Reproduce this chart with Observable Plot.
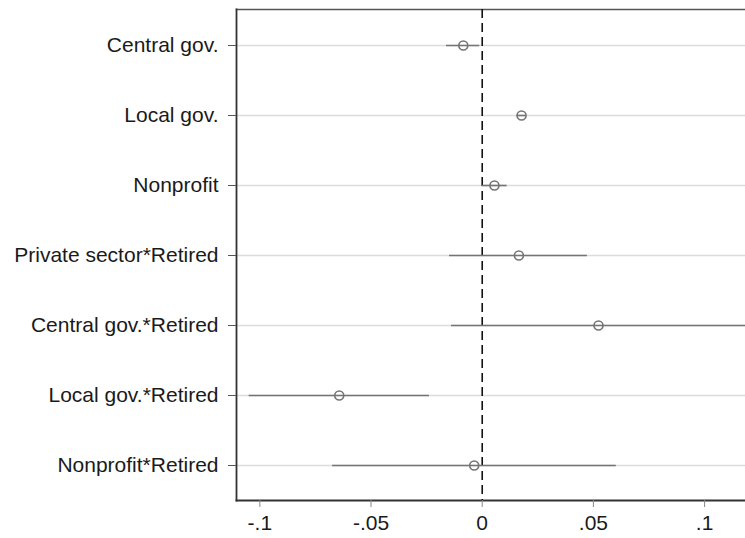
<!DOCTYPE html>
<html>
<head>
<meta charset="utf-8">
<script src="https://cdn.jsdelivr.net/npm/d3@7"></script>
<script src="https://cdn.jsdelivr.net/npm/@observablehq/plot@0.6"></script>
<style>
  html, body { margin: 0; padding: 0; background: #fff; }
  #chart { width: 745px; height: 538px; }
</style>
</head>
<body>
<div id="chart"></div>
<script>
const terms = ["Central gov.", "Local gov.", "Nonprofit", "Private sector*Retired", "Central gov.*Retired", "Local gov.*Retired", "Nonprofit*Retired"];
const estimates = [-0.0085, 0.0177, 0.0055, 0.0165, 0.0523, -0.0643, -0.0036];
const lower = [-0.0161, 0.0156, 0.0000, -0.0147, -0.0138, -0.1048, -0.0673];
const upper = [-0.0011, 0.0198, 0.0112, 0.0473, 0.1190, -0.0237, 0.0603];
const xTicks = [-0.1, -0.05, 0, 0.05, 0.1];
const xTickLabels = ["-.1", "-.05", "0", ".05", ".1"];
const xDomain = [-0.1105, 0.1184];

const data = terms.map((t, i) => ({term: t, est: estimates[i], lo: lower[i], hi: upper[i]}));

const chart = Plot.plot({
  width: 745,
  height: 538,
  marginLeft: 236,
  marginRight: 0,
  marginTop: 9,
  marginBottom: 38,
  style: {fontFamily: "'Liberation Sans', Arial, sans-serif", fontSize: "21px", color: "#1a1a1a", background: "#fff"},
  x: {domain: xDomain, ticks: xTicks, tickFormat: (d) => xTickLabels[xTicks.indexOf(d)]},
  y: {domain: terms, type: "point", padding: 0.5},
  marks: [
    Plot.gridY({stroke: "#dcdcdc", strokeOpacity: 1, strokeWidth: 1.5}),
    Plot.frame({anchor: "top", stroke: "#555", strokeWidth: 1.5}),
    Plot.frame({anchor: "left", stroke: "#333", strokeWidth: 1.8}),
    Plot.frame({anchor: "bottom", stroke: "#333", strokeWidth: 1.8}),
    Plot.ruleX([0], {stroke: "#111", strokeWidth: 1.6, strokeDasharray: "9,5"}),
    Plot.ruleY(data, {y: "term", x1: "lo", x2: "hi", stroke: "#747474", strokeWidth: 1.6, clip: true}),
    Plot.dot(data, {x: "est", y: "term", r: 4.5, stroke: "#747474", fill: "none", strokeWidth: 1.6}),
    Plot.axisX({ticks: xTicks, tickFormat: (d) => xTickLabels[xTicks.indexOf(d)], tickSize: 7, tickPadding: 8, stroke: "#888", fontSize: 21, label: null}),
    Plot.axisY({tickSize: 8, tickPadding: 10, stroke: "#555", fontSize: 21, label: null})
  ]
});
document.getElementById("chart").appendChild(chart);
</script>
</body>
</html>
